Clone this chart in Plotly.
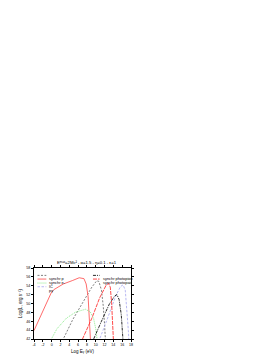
import plotly.graph_objects as go

# ---- data ----
x_sync_e = [-4, -0.1, 0.47, 2.64, 4.8, 6.25, 7.33, 7.83, 8.27, 8.55, 8.77, 8.9]
y_sync_e = [43.9, 52.4, 53.1, 54.4, 55.2, 55.8, 55.6, 54.4, 51.6, 46.7, 42.0, 40.0]

x_sync_p = [2.0, 2.64, 4.8, 6.97, 9.13, 10.2, 10.7, 11.3, 11.7, 12.0, 12.2, 12.3]
y_sync_p = [40.9, 42.0, 46.4, 50.2, 53.7, 55.1, 55.0, 53.0, 49.5, 45.3, 42.0, 40.0]

x_ic = [-0.6, -0.1, 1.2, 3.36, 5.5, 7.7, 8.77, 9.5, 10.0, 10.3, 10.5]
y_ic = [41.0, 42.0, 44.3, 46.7, 48.1, 48.7, 48.1, 46.7, 44.3, 42.0, 40.5]

x_pair = [6.5, 6.97, 9.13, 10.9, 12.4, 12.9, 13.3, 13.6, 13.9, 14.0, 14.1]
y_pair = [40.9, 42.0, 46.7, 51.3, 54.2, 54.5, 53.7, 50.2, 45.3, 42.0, 40.0]

x_pion = [9.0, 9.5, 11.3, 13.1, 14.3, 14.8, 15.3, 15.8, 16.1, 16.2, 16.3]
y_pion = [40.8, 42.0, 46.0, 49.9, 51.7, 52.0, 50.9, 47.4, 43.9, 42.0, 40.0]

x_pg = [10.4, 10.9, 12.7, 14.5, 15.6, 16.2, 16.7, 17.1, 17.4, 17.5, 17.6]
y_pg = [40.5, 42.0, 46.7, 51.6, 53.8, 54.2, 53.0, 48.8, 43.9, 42.0, 40.0]

x_ticks = [-4, -2, 0, 2, 4, 6, 8, 10, 12, 14, 16, 18]
y_ticks = [42, 44, 46, 48, 50, 52, 54, 56, 58]

series = [
    ("synchr p", x_sync_p, y_sync_p, "#707070", "2px,1.5px"),
    ("synchr e-", x_sync_e, y_sync_e, "#ff5a5a", "solid"),
    ("IC", x_ic, y_ic, "#7fe87f", "1px,1px"),
    ("pγ", x_pg, y_pg, "#b0b0f0", "2.5px,1.5px"),
    ("synchr photopion", x_pion, y_pion, "#111111", "3px,1px,1px,1px"),
    ("synchr photopair", x_pair, y_pair, "#ff3535", "4px,1px"),
]

FONT = "Liberation Sans"
fig = go.Figure()
for name, xs, ys, col, dash in series:
    fig.add_trace(go.Scatter(x=xs, y=ys, mode="lines", name=name,
                             line=dict(color=col, width=0.9, dash=dash),
                             showlegend=False))

# legend drawn as annotations + line samples (two columns)
left = series[:4]
right = series[4:]
row_y = [0.896, 0.844, 0.788, 0.736]
for i, (name, xs, ys, col, dash) in enumerate(left):
    fig.add_shape(type="line", xref="paper", yref="paper",
                  x0=0.036, x1=0.127, y0=row_y[i], y1=row_y[i],
                  line=dict(color=col, width=0.9, dash=dash))
    fig.add_annotation(xref="paper", yref="paper", x=0.14, y=row_y[i],
                       text=name, showarrow=False, xanchor="left",
                       borderpad=0, font=dict(size=3.9, family=FONT, color="#000"))
for i, (name, xs, ys, col, dash) in enumerate(right):
    fig.add_shape(type="line", xref="paper", yref="paper",
                  x0=0.608, x1=0.676, y0=row_y[i], y1=row_y[i],
                  line=dict(color=col, width=0.9, dash=dash))
    fig.add_annotation(xref="paper", yref="paper", x=0.696, y=row_y[i],
                       text=name, showarrow=False, xanchor="left",
                       borderpad=0, font=dict(size=3.9, family=FONT, color="#000"))

fig.add_annotation(xref="paper", yref="paper", x=0.55, y=1.075,
                   text="Eᵐᵃˣ=2Mc² - α=1.5 - η=0.1 - ε=1",
                   showarrow=False, yanchor="middle", borderpad=0,
                   font=dict(size=4.2, family=FONT, color="#000"))

axis_common = dict(showline=True, linecolor="black", linewidth=1, mirror="allticks",
                   ticks="outside", ticklen=2, tickwidth=0.7, tickcolor="black",
                   showgrid=False, zeroline=False,
                   tickfont=dict(size=3.6, family=FONT, color="#000"))
fig.update_xaxes(range=[-4, 18], tickvals=x_ticks,
                 ticktext=[str(v) for v in x_ticks],
                 title=dict(text="Log Eᵧ (eV)", standoff=3,
                            font=dict(size=4.5, family=FONT, color="#000")),
                 **axis_common)
fig.update_yaxes(range=[42, 58], tickvals=y_ticks,
                 ticktext=[str(v) for v in y_ticks],
                 title=dict(text="Log(L, erg s⁻¹)", standoff=3,
                            font=dict(size=4.5, family=FONT, color="#000")),
                 **axis_common)

fig.update_layout(width=276, height=357,
                  margin=dict(l=21, r=153, t=260, b=20),
                  paper_bgcolor="white", plot_bgcolor="white",
                  showlegend=False)
fig.write_html("out.html")
